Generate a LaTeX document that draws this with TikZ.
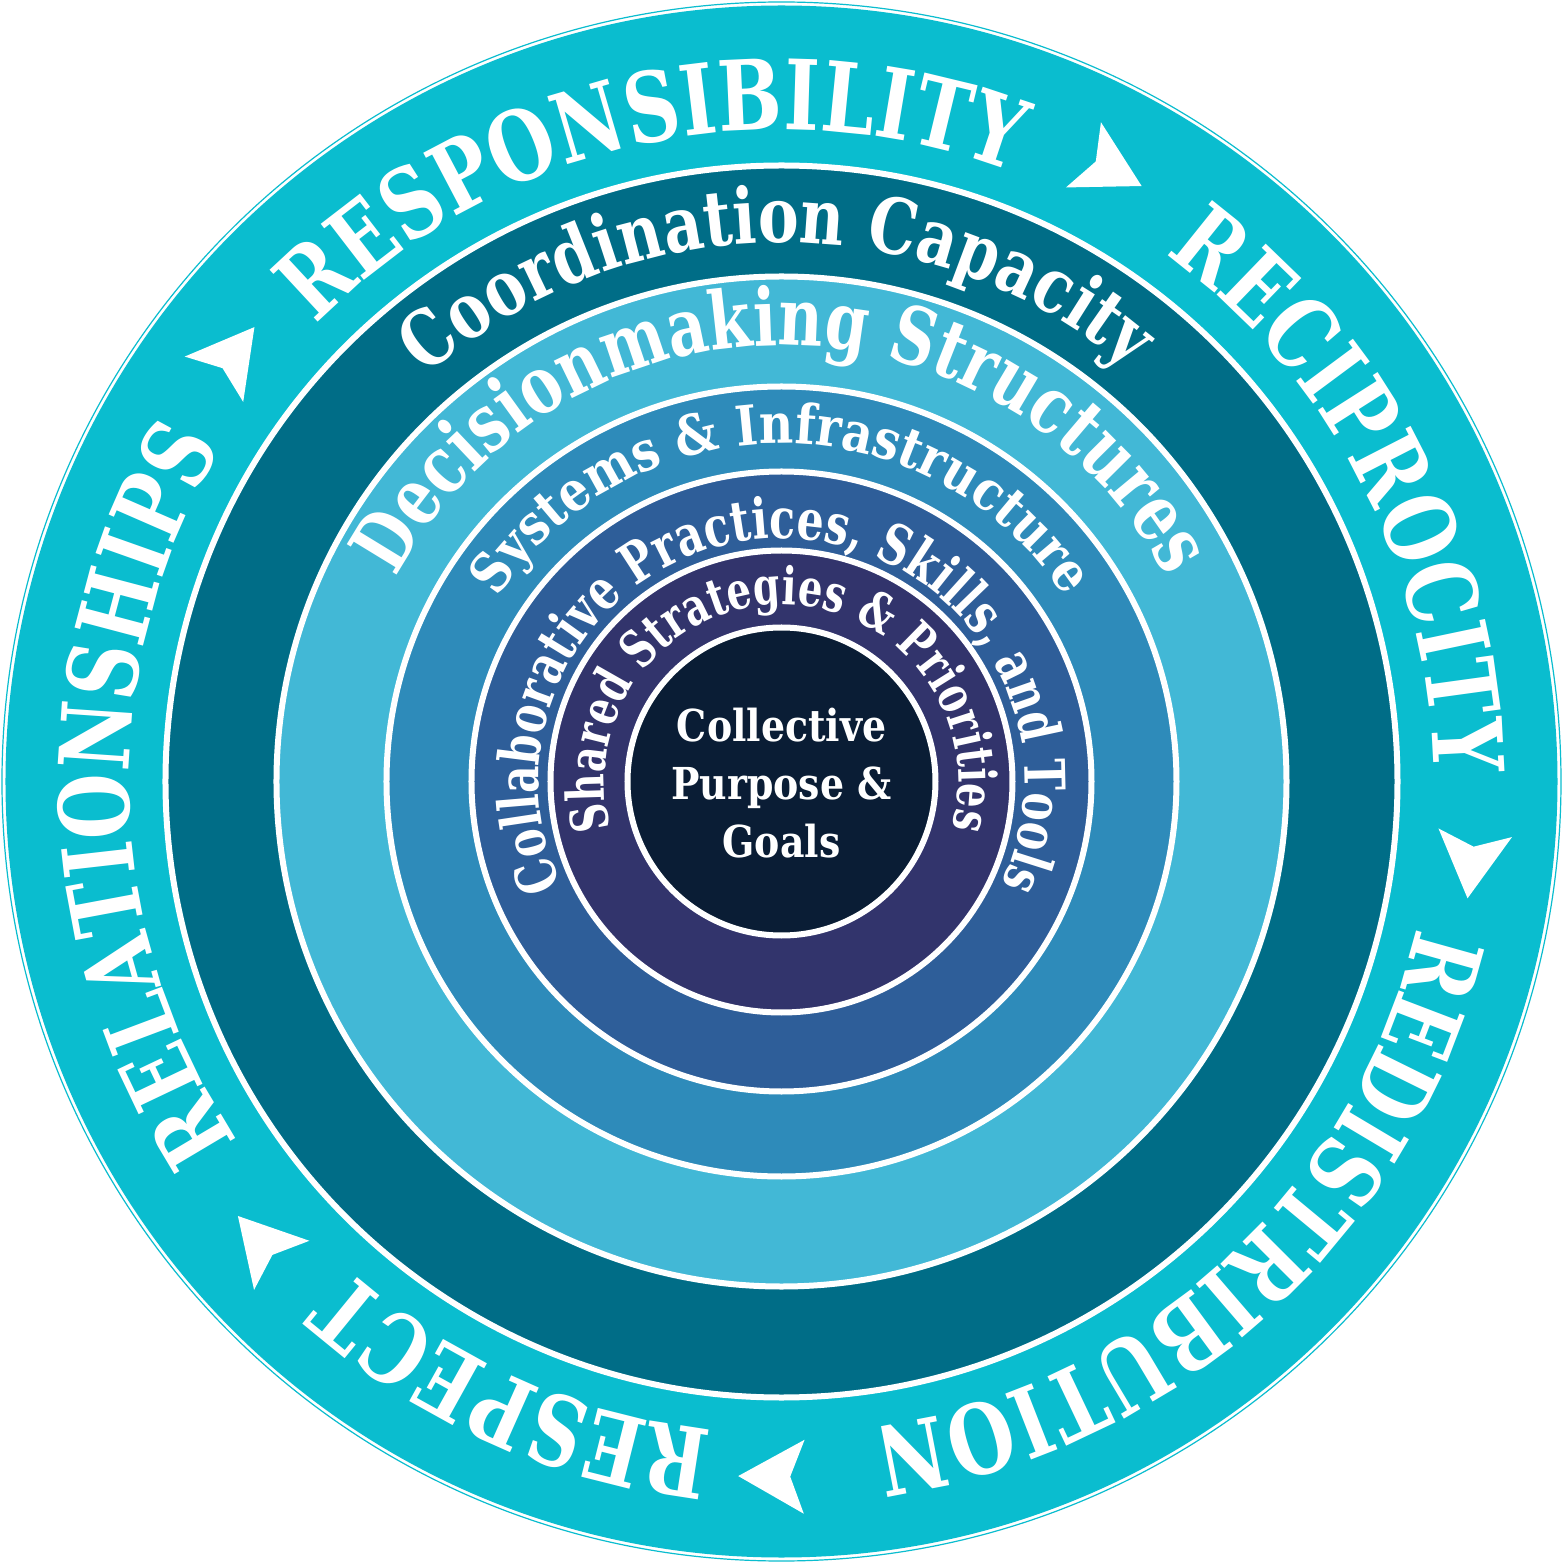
\documentclass[tikz,border=0pt]{standalone}
\usepackage{fontspec}
\setmainfont{DejaVu Serif}[FakeStretch=0.86]
\newfontfamily\fOuter{DejaVu Serif}[FakeStretch=0.78]
\newfontfamily\fCoord{DejaVu Serif}[FakeStretch=0.795]
\newfontfamily\fDec{DejaVu Serif}[FakeStretch=0.77]
\newfontfamily\fSys{DejaVu Serif}[FakeStretch=0.86]
\newfontfamily\fCol{DejaVu Serif}[FakeStretch=0.76]
\newfontfamily\fSha{DejaVu Serif}[FakeStretch=0.74]
\usetikzlibrary{decorations.text}
\definecolor{ringcyan}{HTML}{0ABDCF}
\definecolor{ringteal}{HTML}{006D87}
\definecolor{ringlight}{HTML}{42B8D6}
\definecolor{ringmid}{HTML}{2E8BBA}
\definecolor{ringblue}{HTML}{2E5E99}
\definecolor{ringpurple}{HTML}{32346C}
\definecolor{ringnavy}{HTML}{0A1D35}
% #1 centre angle, #2 half span of the carrier arc, #3 baseline radius (pt),
% #4 font family command, #5 font size (pt), #6 text
\newcommand\arctext[6]{%
  \path[decorate,decoration={text along path,text align=center,
    text={|\color{white}#4\bfseries\fontsize{#5}{#5}\selectfont|#6}}]
    ({#1+#2}:#3pt) arc[start angle={#1+#2},end angle={#1-#2},radius=#3pt];}
\tikzset{
  ring/.style={draw=white,line width=6pt},
  arrowmark/.style={fill=white}
}
\begin{document}
\begin{tikzpicture}
\useasboundingbox (-781.5pt,-781.5pt) rectangle (781.5pt,781.5pt);
\fill[white] (-781.5pt,-781.5pt) rectangle (781.5pt,781.5pt);
% rings
\draw[ringcyan,line width=1.2pt] (0,0) circle[radius=779.5pt];
\fill[ringcyan] (0,0) circle[radius=776pt];
\filldraw[ring,fill=ringteal] (0,0) circle[radius=616pt];
\filldraw[ring,fill=ringlight] (0,0) circle[radius=505pt];
\filldraw[ring,fill=ringmid] (0,0) circle[radius=395pt];
\filldraw[ring,fill=ringblue] (0,0) circle[radius=310pt];
\filldraw[ring,fill=ringpurple] (0,0) circle[radius=231pt];
\filldraw[ring,fill=ringnavy] (0,0) circle[radius=154pt];
% outer words
\arctext{102.4}{80}{652}{\fOuter}{97}{RESPONSIBILITY}
\arctext{27.3}{80}{652}{\fOuter}{97}{RECIPROCITY}
\arctext{-47.5}{80}{652}{\fOuter}{97}{REDISTRIBUTION}
\arctext{-113.9}{80}{652}{\fOuter}{97}{RESPECT}
\arctext{181.3}{80}{652}{\fOuter}{97}{RELATIONSHIPS}
% arrow marks between the words
\foreach \a in {142.2,61.8,-6.7,-90.6,-138.4}{
  \begin{scope}[shift={(\a:695pt)},rotate={\a-90}]
    \path[arrowmark] (36pt,0pt) -- (-30pt,37pt) -- (-16pt,0pt) -- (-30pt,-37pt) -- cycle;
  \end{scope}}
% inner rings
\arctext{90.5}{90}{539}{\fCoord}{77}{Coordination Capacity}
\arctext{90}{100}{436}{\fDec}{80}{Decisionmaking Structures}
\arctext{90}{100}{338}{\fSys}{55}{Systems {\&} Infrastructure}
\arctext{90}{170}{243}{\fCol}{56}{Collaborative Practices, Skills, and Tools}
\arctext{90}{170}{177}{\fSha}{52}{Shared Strategies {\&} Priorities}
% core
\node[align=center,text=white,font=\bfseries\fontsize{44}{58}\selectfont] (core) at (0pt,-2pt) {Collective\\Purpose \&\\Goals};
\end{tikzpicture}
\end{document}
